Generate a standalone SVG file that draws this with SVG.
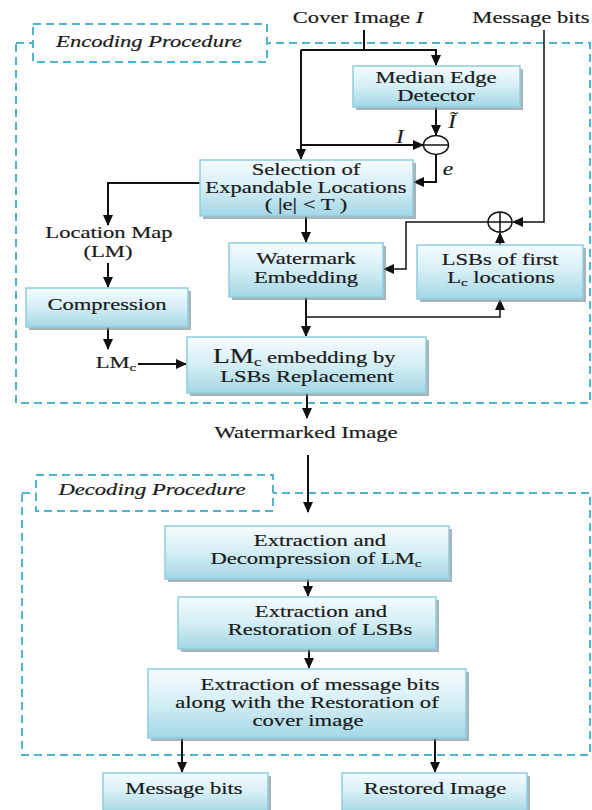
<svg xmlns="http://www.w3.org/2000/svg" width="592" height="810" viewBox="0 0 592 810">
<defs>
<linearGradient id="g" x1="0" y1="0" x2="0" y2="1">
<stop offset="0" stop-color="#f6fcfe"/>
<stop offset="0.5" stop-color="#d4eef5"/>
<stop offset="1" stop-color="#a3d7e5"/>
</linearGradient>
<marker id="ah" markerUnits="userSpaceOnUse" markerWidth="11" markerHeight="10" refX="10" refY="5" orient="auto">
<path d="M0,0 L11,5 L0,10 z" fill="#111"/>
</marker>
<style>
.box{fill:url(#g);stroke:#8fcde0;stroke-width:1.5}
.sh{fill:#7d8c91;opacity:0.65}
.dash{fill:none;stroke:#4fb4d2;stroke-width:2;stroke-dasharray:8 5}
.lab{fill:#fff;stroke:#4fb4d2;stroke-width:2;stroke-dasharray:8 5}
.t{font-family:"Liberation Serif","Times New Roman",serif;font-size:16.5px;fill:#1a1a1a;stroke:#1a1a1a;stroke-width:0.18;text-anchor:middle}
.it{font-style:italic}
.c{fill:none;stroke:#111;stroke-width:2;marker-end:url(#ah)}
.cn{fill:none;stroke:#111;stroke-width:2}
.op{fill:#fff;stroke:#111;stroke-width:1.5}
</style>
</defs>
<rect width="592" height="810" fill="#fff"/>

<g id="encoding-frame">
<rect class="dash" x="16" y="43" width="574" height="360"/>
<rect class="lab" x="33" y="24" width="234" height="38"/>
<text class="t it" transform="translate(149,47) scale(1.37,1)">Encoding Procedure</text>
</g>
<g id="decoding-frame">
<rect class="dash" x="22" y="493" width="568" height="262"/>
<rect class="lab" x="36" y="475" width="237" height="36"/>
<text class="t it" transform="translate(152,495) scale(1.37,1)">Decoding Procedure</text>
</g>

<g id="connectors">
<path class="cn" d="M364,30 V50"/>
<path class="c" d="M301,50 H436 V65"/>
<path class="c" d="M301,50 V159"/>
<path class="c" d="M301,145 H423"/>
<path class="c" d="M436,107 V135"/>
<path class="c" d="M436,154.5 V182 H414"/>
<path class="c" d="M200,183 H108 V225"/>
<path class="c" d="M108,263 V287"/>
<path class="c" d="M108,327 V349"/>
<path class="c" d="M138,364 H186"/>
<path class="c" d="M306,216 V242"/>
<path class="c" d="M306,297 V336"/>
<path class="c" style="stroke-width:1.5" d="M306,317 H500 V300"/>
<path class="c" style="stroke-width:1.5" d="M500,245 V233"/>
<path class="c" style="stroke-width:1.5" d="M544,30 V222 H513"/>
<path class="c" style="stroke-width:1.5" d="M488,222 H406 V269 H384"/>
<path class="c" d="M307,393 V418"/>
<path class="c" d="M308,455 V512"/>
<path class="c" d="M308,579 V596"/>
<path class="c" d="M309,649 V668"/>
<path class="c" d="M182,738 V772"/>
<path class="c" d="M435,738 V772"/>
</g>

<g id="input-labels">
<text class="t" transform="translate(358,23) scale(1.37,1)">Cover Image <tspan class="it">I</tspan></text>
<text class="t" transform="translate(531,23) scale(1.37,1)">Message bits</text>
<text class="t it" transform="translate(452,128) scale(1.25,1)" style="font-size:18px">Ĩ</text>
<text class="t it" transform="translate(400,143) scale(1.25,1)" style="font-size:18px">I</text>
<text class="t it" transform="translate(448,175) scale(1.3,1)" style="font-size:18px">e</text>
</g>

<g id="subtract">
<ellipse class="op" cx="436" cy="145" rx="12.5" ry="9.5"/>
<path d="M423.5,145 H448.5" stroke="#111" stroke-width="1.5"/>
</g>
<g id="xor">
<ellipse class="op" cx="500" cy="222" rx="12" ry="10"/>
<path d="M488,222 H512 M500,212 V232" stroke="#111" stroke-width="1.5"/>
</g>

<g id="median-edge-detector">
<rect class="sh" x="356" y="69" width="167" height="41"/>
<rect class="box" x="353" y="66" width="167" height="41"/>
<text class="t" transform="translate(436,83) scale(1.37,1)">Median Edge</text>
<text class="t" transform="translate(436,101) scale(1.37,1)">Detector</text>
</g>

<g id="selection">
<rect class="sh" x="203" y="163" width="213" height="56"/>
<rect class="box" x="200" y="160" width="213" height="56"/>
<text class="t" transform="translate(306,175) scale(1.37,1)">Selection of</text>
<text class="t" transform="translate(306,193) scale(1.37,1)">Expandable Locations</text>
<text class="t" transform="translate(306,210) scale(1.37,1)">( |e| &lt; T )</text>
</g>

<g id="location-map">
<text class="t" transform="translate(109,238) scale(1.37,1)">Location Map</text>
<text class="t" transform="translate(108,257) scale(1.37,1)">(LM)</text>
</g>

<g id="compression">
<rect class="sh" x="29" y="291" width="162" height="39"/>
<rect class="box" x="26" y="288" width="162" height="39"/>
<text class="t" transform="translate(107,310) scale(1.37,1)">Compression</text>
</g>

<g id="lmc-label">
<text class="t" transform="translate(116,368) scale(1.37,1)">LM<tspan style="font-size:11px" dy="3">c</tspan></text>
</g>

<g id="watermark-embedding">
<rect class="sh" x="232" y="246" width="154" height="54"/>
<rect class="box" x="229" y="243" width="154" height="54"/>
<text class="t" transform="translate(306,264) scale(1.37,1)">Watermark</text>
<text class="t" transform="translate(306,283) scale(1.37,1)">Embedding</text>
</g>

<g id="lsbs-first">
<rect class="sh" x="420" y="248" width="166" height="54"/>
<rect class="box" x="417" y="245" width="166" height="54"/>
<text class="t" transform="translate(500,265) scale(1.37,1)">LSBs of first</text>
<text class="t" transform="translate(501,283) scale(1.37,1)">L<tspan style="font-size:11px" dy="3">c</tspan><tspan dy="-3"> locations</tspan></text>
</g>

<g id="lmc-embedding">
<rect class="sh" x="190" y="340" width="239" height="56"/>
<rect class="box" x="187" y="337" width="239" height="56"/>
<text class="t" style="text-anchor:start" transform="translate(213,363) scale(1.37,1)"><tspan style="font-size:20px">LM</tspan><tspan style="font-size:12px" dy="3">c</tspan><tspan dy="-3"> embedding by</tspan></text>
<text class="t" transform="translate(307,382) scale(1.37,1)">LSBs Replacement</text>
</g>

<g id="watermarked-image">
<text class="t" transform="translate(306,438) scale(1.37,1)">Watermarked Image</text>
</g>

<g id="extraction-decompression">
<rect class="sh" x="168" y="529" width="284" height="53"/>
<rect class="box" x="165" y="526" width="284" height="53"/>
<text class="t" transform="translate(320,546) scale(1.37,1)">Extraction and</text>
<text class="t" transform="translate(316,564) scale(1.37,1)">Decompression of LM<tspan style="font-size:11px" dy="3">c</tspan></text>
</g>

<g id="extraction-restoration">
<rect class="sh" x="181" y="600" width="258" height="52"/>
<rect class="box" x="178" y="597" width="258" height="52"/>
<text class="t" transform="translate(321,617) scale(1.37,1)">Extraction and</text>
<text class="t" transform="translate(320,635) scale(1.37,1)">Restoration of LSBs</text>
</g>

<g id="extraction-message">
<rect class="sh" x="151" y="672" width="318" height="69"/>
<rect class="box" x="148" y="669" width="318" height="69"/>
<text class="t" transform="translate(320,690) scale(1.37,1)">Extraction of message bits</text>
<text class="t" transform="translate(307,708) scale(1.37,1)">along with the Restoration of</text>
<text class="t" transform="translate(308,726) scale(1.37,1)">cover image</text>
</g>

<g id="message-bits-out">
<rect class="sh" x="106" y="776" width="165" height="40"/>
<rect class="box" x="103" y="773" width="165" height="40"/>
<text class="t" transform="translate(184,794) scale(1.37,1)">Message bits</text>
</g>

<g id="restored-image">
<rect class="sh" x="345" y="776" width="185" height="40"/>
<rect class="box" x="342" y="773" width="185" height="40"/>
<text class="t" transform="translate(435,794) scale(1.37,1)">Restored Image</text>
</g>
</svg>
